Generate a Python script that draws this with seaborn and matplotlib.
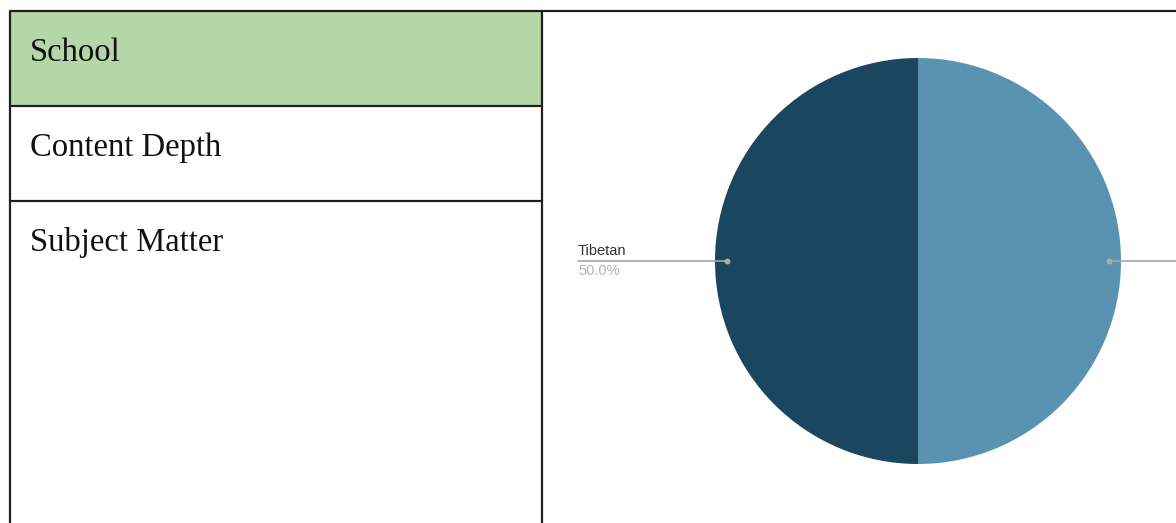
import matplotlib
matplotlib.use("Agg")
import matplotlib.pyplot as plt
import seaborn as sns

# Table rows on the left
row_labels = ["School", "Content Depth", "Subject Matter"]
header_fill = "#b5d7a8"

# Pie data
slice_labels = ["Tibetan", "Other"]
slice_values = [50.0, 50.0]
slice_colors = ["#1a465f", "#5a93b2"]

sns.set_theme(style="white")
plt.rcParams["font.family"] = ["Liberation Serif", "DejaVu Serif"]

W, H = 1176, 523
fig = plt.figure(figsize=(W / 100, H / 100), dpi=100)
ax = fig.add_axes([0, 0, 1, 1])

# --- table ---
left, mid, top = 9.5, 541.5, 11
row_h = 94.8
edge = "#1e1e1e"
ax.add_patch(plt.Rectangle((left, top), mid - left, row_h, facecolor=header_fill,
                           edgecolor="none", zorder=0))
ax.plot([left, W + 5], [top, top], color=edge, lw=1.6, solid_capstyle="butt", zorder=3)
ax.plot([left, left], [top, H + 5], color=edge, lw=1.6, zorder=3)
ax.plot([mid, mid], [top, H + 5], color=edge, lw=1.6, zorder=3)
for i in range(1, len(row_labels)):
    y = top + i * row_h
    ax.plot([left, mid], [y, y], color=edge, lw=1.6, zorder=3)
for i, lab in enumerate(row_labels):
    ax.text(30, top + 50 + i * row_h, lab, fontsize=23.5, color="#111111",
            va="baseline", ha="left", family=["Liberation Serif", "DejaVu Serif"])

# --- pie ---
cx, cy, r = 918, 261, 203
wedges, _ = ax.pie(slice_values, colors=slice_colors, startangle=90, counterclock=True,
                   center=(cx, cy), radius=r, labels=None,
                   wedgeprops=dict(linewidth=0), frame=True)
ax.set_xlim(0, W)
ax.set_ylim(H, 0)
ax.set_aspect("auto")
ax.axis("off")

total = sum(slice_values)
line_col = "#a8a8a8"
sans = ["Liberation Sans", "DejaVu Sans"]
# leader lines for both slices; the second slice's caption sits past the right edge
for side in (-1, 1):
    dot_x = cx + side * r * 0.94
    end_x = 578 if side < 0 else W + 10
    ax.plot([dot_x, end_x], [cy, cy], color=line_col, lw=1.2, zorder=4, clip_on=False)
    ax.plot([dot_x], [cy], "o", ms=3.2, color="#b5aca0", zorder=5)

ax.text(578, cy - 6, slice_labels[0], fontsize=10.5, color="#333333", family=sans,
        va="baseline", ha="left")
ax.text(578, cy + 14, f"{slice_values[0] / total * 100:.1f}%", fontsize=10.5,
        color="#b3b3b3", family=sans, va="baseline", ha="left")

fig.savefig("out.png", dpi=100)
